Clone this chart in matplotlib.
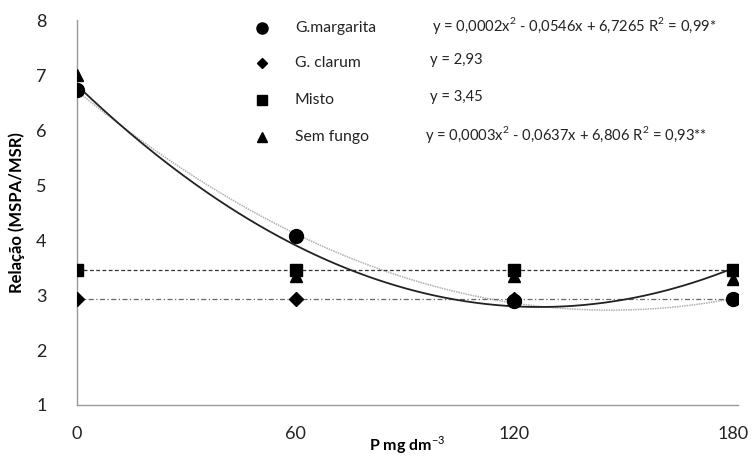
import numpy as np
import matplotlib.pyplot as plt

plt.rcParams['font.family'] = ['Lato', 'DejaVu Sans']
plt.rcParams['mathtext.fontset'] = 'custom'
plt.rcParams['mathtext.rm'] = 'Lato'
plt.rcParams['mathtext.bf'] = 'Lato:bold'

doses = [0, 60, 120, 180]
margarita = [6.73, 4.07, 2.90, 2.92]
clarum = [2.93, 2.93, 2.93, 2.93]
misto = [3.45, 3.45, 3.45, 3.45]
sem_fungo = [7.00, 3.35, 3.35, 3.30]

names = ['G.margarita', 'G. clarum', 'Misto', 'Sem fungo']
equations = ['y = 0,0002x$^2$ - 0,0546x + 6,7265 R$^2$ = 0,99*',
             'y = 2,93',
             'y = 3,45',
             'y = 0,0003x$^2$ - 0,0637x + 6,806 R$^2$ = 0,93**']
markers = ['o', 'D', 's', '^']
msizes = [8, 5.5, 7, 7]

fig = plt.figure(figsize=(7.53, 4.57), dpi=100)
ax = fig.add_axes([0.1023, 0.1138, 0.878, 0.842])

# trend lines (2nd order polynomial fit, like the spreadsheet trendline)
xs = np.linspace(0, 180, 200)
p_marg = np.polyfit(doses, margarita, 2)
p_sem = np.polyfit(doses, sem_fungo, 2)
ax.plot(xs, np.polyval(p_marg, xs), color='#b0b0b0', lw=1.1, ls=(0, (1, 0.6)), zorder=2)
ax.plot(xs, np.polyval(p_sem, xs), color='#222222', lw=1.3, zorder=3)
ax.plot([0, 180], [np.mean(misto)] * 2, color='#333333', lw=0.9, ls=(0, (3, 2)), zorder=2)
ax.plot([0, 180], [np.mean(clarum)] * 2, color='#666666', lw=0.9, ls=(0, (4, 2, 1, 2)), zorder=2)

ax.plot(doses, clarum, 'D', color='black', ms=7, zorder=4)
ax.plot(doses, sem_fungo, '^', color='black', ms=9, zorder=4)
ax.plot(doses, misto, 's', color='black', ms=9, zorder=5)
ax.plot(doses, margarita, 'o', color='black', ms=10, zorder=6)

ax.set_xlim(0, 181.5)
ax.set_ylim(1, 8)
ax.set_xticks(doses)
ax.set_yticks(range(1, 9))
ax.tick_params(length=0, labelsize=13, colors='#222222')
ax.tick_params(axis='x', pad=15)
ax.tick_params(axis='y', pad=22)
for s in ['top', 'right']:
    ax.spines[s].set_visible(False)
for s in ['left', 'bottom']:
    ax.spines[s].set_color('#999999')
    ax.spines[s].set_linewidth(1.0)

ax.set_ylabel('Relação (MSPA/MSR)', fontsize=12, fontweight='bold', labelpad=8)
ax.set_xlabel(r'P mg dm$^{-3}$', fontsize=11.5, fontweight='bold', labelpad=-5)

# legend drawn as text rows
rows_y = [28, 63, 100, 137]
eq_x = [432, 430, 430, 425]
for i in range(4):
    yf = 1 - rows_y[i] / 457
    fig.lines.append(plt.Line2D([262 / 753], [yf], marker=markers[i], ms=msizes[i],
                                color='black', transform=fig.transFigure))
    fig.text(295 / 753, yf, names[i], fontsize=11.3, va='center', ha='left', color='#222222')
    fig.text(eq_x[i] / 753, yf + 0.006, equations[i], fontsize=10.6, va='center', ha='left', color='#222222')

fig.savefig('out.png', dpi=100)
